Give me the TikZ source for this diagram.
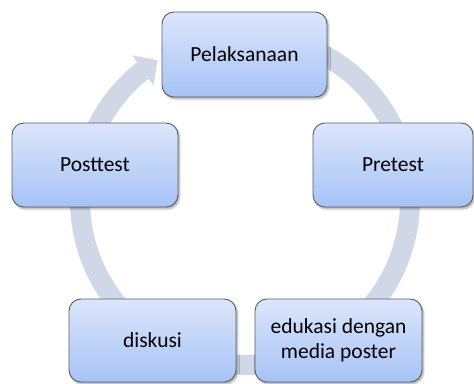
\documentclass[tikz,border=0pt]{standalone}
\usepackage{fontspec}
\setmainfont{Carlito}
\usetikzlibrary{calc,arrows.meta,bending,shadows.blur}
\definecolor{ringcol}{HTML}{D0D8E7}
\definecolor{boxtop}{HTML}{DCE6FB}
\definecolor{boxbot}{HTML}{A6C3F6}
\definecolor{boxline}{HTML}{5E5E5E}
\tikzset{
  cyclebox/.style={draw=boxline, line width=0.9pt, rounded corners=12pt,
    top color=boxtop, bottom color=boxbot, inner sep=0pt, align=center,
    font=\fontsize{21.5}{25}\selectfont,
    blur shadow={shadow xshift=1.5pt, shadow yshift=-2pt, shadow blur steps=6, shadow opacity=35}},
  ring/.style={draw=ringcol, line width=20pt}
}
\begin{document}
\begin{tikzpicture}[x=1pt,y=1pt]
\useasboundingbox (0,0) rectangle (474,383);
\coordinate (c) at (245,183);
% cycle ring with arrow head
\draw[ring, -{Triangle[width=36pt,length=18pt]}] ($(c)+(75:165)$) arc[start angle=75, end angle=-238, radius=165];
% boxes
\node[cyclebox, minimum width=165pt, minimum height=85pt] (pel) at (244.5,328.5) {Pelaksanaan};
\node[cyclebox, minimum width=160pt, minimum height=84pt] (pre) at (393,218) {Pretest};
\node[cyclebox, minimum width=167pt, minimum height=83pt] (edu) at (338.5,42.5) {edukasi dengan\\media poster};
\node[cyclebox, minimum width=167pt, minimum height=83pt] (dis) at (152.5,42.5) {diskusi};
\node[cyclebox, minimum width=166pt, minimum height=84pt] (post) at (95,218) {Posttest};
\end{tikzpicture}
\end{document}
